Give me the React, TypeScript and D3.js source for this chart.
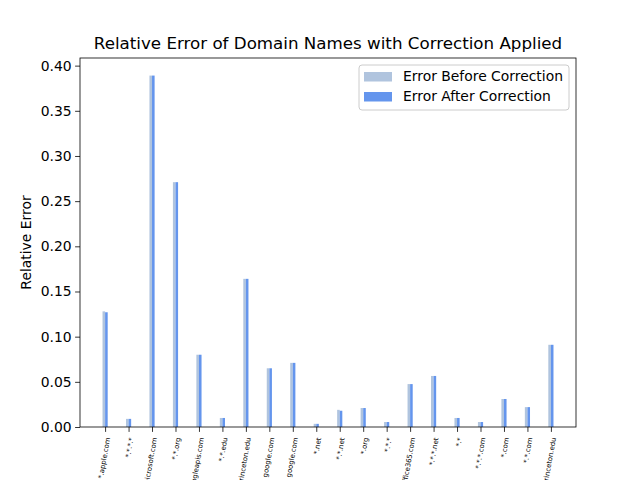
import React, { useRef, useEffect } from "react";
import * as d3 from "d3";

// domain names (x axis)
const domains = [
  "*.apple.com", "*.*.*.*", "*.microsoft.com", "*.*.org", "*.googleapis.com",
  "*.*.edu", "*.princeton.edu", "google.com", "google.com", "*.net",
  "*.*.net", "*.org", "*.*.*", "*.office365.com", "*.*.*.net",
  "*.*", "*.*.*.com", "*.com", "*.*.com", "*.cs.princeton.edu",
];

const errorBefore = [
  0.128, 0.009, 0.389, 0.271, 0.080, 0.010, 0.164, 0.065, 0.071, 0.0035,
  0.019, 0.021, 0.0055, 0.0475, 0.0565, 0.010, 0.0055, 0.031, 0.022, 0.091,
];

const errorAfter = [
  0.127, 0.009, 0.389, 0.271, 0.080, 0.010, 0.164, 0.065, 0.071, 0.0035,
  0.018, 0.021, 0.0055, 0.0475, 0.0565, 0.010, 0.0055, 0.031, 0.022, 0.091,
];

const yTicks = [0, 0.05, 0.1, 0.15, 0.2, 0.25, 0.3, 0.35, 0.4];

const seriesNames = ["Error Before Correction", "Error After Correction"];
const colors = ["#B0C4DE", "#6495ED"];

const W = 640;
const H = 480;

const App = () => {
  const ref = useRef<SVGSVGElement>(null);

  useEffect(() => {
    const svg = d3.select(ref.current);
    svg.selectAll("*").remove();

    const margin = { top: 58, right: 64, bottom: 53, left: 80 };
    const innerW = W - margin.left - margin.right;
    const innerH = H - margin.top - margin.bottom;
    const font = "DejaVu Sans, sans-serif";
    const barW = 0.11;

    const n = domains.length;
    const x = d3.scaleLinear().domain([-1.07, n - 1 + 1.07]).range([0, innerW]);
    const yMax = d3.max(errorBefore.concat(errorAfter)) * 1.05;
    const y = d3.scaleLinear().domain([0, yMax]).range([innerH, 0]);

    svg.append("rect").attr("width", W).attr("height", H).attr("fill", "white");

    const g = svg.append("g").attr("transform", `translate(${margin.left},${margin.top})`);

    // bars, "before" left of the tick, "after" right of it
    [errorBefore, errorAfter].forEach((vals, s) => {
      g.append("g")
        .selectAll("rect")
        .data(vals)
        .enter()
        .append("rect")
        .attr("x", (d, i) => x(i + (s === 0 ? -barW : 0)))
        .attr("width", x(barW) - x(0))
        .attr("y", (d) => y(d))
        .attr("height", (d) => y(0) - y(d))
        .attr("fill", colors[s]);
    });

    // y axis
    const yAxis = g.append("g")
      .call(d3.axisLeft(y).tickValues(yTicks).tickFormat(d3.format(".2f")).tickSizeOuter(0).tickSize(4.9).tickPadding(3.5));
    yAxis.select(".domain").remove();
    yAxis.selectAll("text").attr("font-family", font).attr("font-size", 13.9).attr("fill", "black");
    yAxis.selectAll("line").attr("stroke", "black").attr("stroke-width", 0.8);

    // x axis
    const xAxis = g.append("g")
      .attr("transform", `translate(0,${innerH})`)
      .call(d3.axisBottom(x).tickValues(d3.range(n)).tickFormat((d) => domains[d as number]).tickSizeOuter(0).tickSize(4.9));
    xAxis.select(".domain").remove();
    xAxis.selectAll("line").attr("stroke", "black").attr("stroke-width", 0.8);
    xAxis.selectAll("text")
      .attr("font-family", font)
      .attr("font-size", 6.9)
      .attr("fill", "black")
      .attr("text-anchor", "end")
      .attr("dy", null)
      .attr("y", null)
      .attr("transform", "translate(4.5,11) rotate(-80)");

    // frame
    g.append("rect")
      .attr("width", innerW)
      .attr("height", innerH)
      .attr("fill", "none")
      .attr("stroke", "black")
      .attr("stroke-width", 0.8);

    // title
    svg.append("text")
      .attr("x", margin.left + innerW / 2)
      .attr("y", 49)
      .attr("text-anchor", "middle")
      .attr("font-family", font)
      .attr("font-size", 16.7)
      .text("Relative Error of Domain Names with Correction Applied");

    // y label
    svg.append("text")
      .attr("transform", `translate(31,${margin.top + innerH / 2}) rotate(-90)`)
      .attr("text-anchor", "middle")
      .attr("font-family", font)
      .attr("font-size", 13.9)
      .text("Relative Error");

    // legend
    const legend = svg.append("g").attr("transform", "translate(359,65)");
    legend.append("rect")
      .attr("width", 210)
      .attr("height", 45)
      .attr("rx", 3)
      .attr("fill", "white")
      .attr("fill-opacity", 0.8)
      .attr("stroke", "#cccccc");
    legend.selectAll(".sw")
      .data(seriesNames)
      .enter()
      .append("rect")
      .attr("x", 5)
      .attr("y", (d, i) => 7 + i * 20)
      .attr("width", 28)
      .attr("height", 9.5)
      .attr("fill", (d, i) => colors[i]);
    legend.selectAll(".lt")
      .data(seriesNames)
      .enter()
      .append("text")
      .attr("x", 44)
      .attr("y", (d, i) => 16 + i * 20)
      .attr("font-family", font)
      .attr("font-size", 13.9)
      .text((d) => d);
  }, []);

  return (
    <svg ref={ref} width={W} height={H} style={{ position: "absolute", left: 0, top: 0 }} />
  );
};

export default App;
